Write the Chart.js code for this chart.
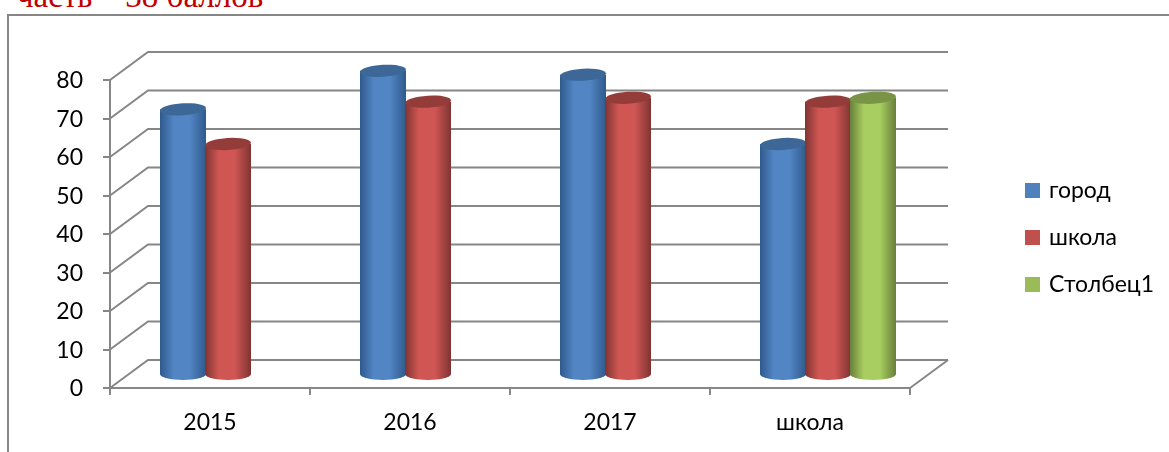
<!DOCTYPE html>
<html>
<head>
<meta charset="utf-8">
<script src="https://cdn.jsdelivr.net/npm/chart.js@4"></script>
<style>
  html, body { margin: 0; padding: 0; background: #fff; overflow: hidden; }
  #stage { position: relative; width: 1169px; height: 452px; overflow: hidden; }
  #heading { position: absolute; left: 17px; top: -22px; font: 33px "Liberation Serif", serif; color: #c00000; white-space: pre; }
  #frame { position: absolute; left: 7px; top: 14px; width: 1200px; height: 500px; border: 2px solid #868686; }
  canvas { position: absolute; left: 0; top: 0; }
</style>
</head>
<body>
<div id="stage">
  <div id="heading">часть – 38 баллов</div>
  <div id="frame"></div>
  <canvas id="chart" width="1169" height="452"></canvas>
</div>
<script>
// --- Data ---
const categories = ["2015", "2016", "2017", "школа"];
const gorod = [69, 79, 78, 60];
const shkola = [60, 71, 72, 71];
const stolbec1 = [null, null, null, 72];

// --- Depth of the 3D box ---
const DEPTH_X = 38;
const DEPTH_Y = 28;
const LINE_COLOR = "#868686";

// edge, middle, top cap
const shades = [
  ["#2f5a8c", "#5285c4", "#3d6796"],
  ["#7f3432", "#cf5653", "#933c3a"],
  ["#687f3a", "#a8cd60", "#7a9447"]
];

// --- Back wall and diagonals, under the bars ---
const wallPlugin = {
  id: "wall",
  beforeDatasetsDraw(chart) {
    const { ctx, scales } = chart;
    const left = scales.x.left, right = scales.x.right;
    ctx.save();
    ctx.strokeStyle = LINE_COLOR;
    ctx.lineWidth = 2;
    scales.y.ticks.forEach(t => {
      const y = scales.y.getPixelForValue(t.value);
      ctx.beginPath();
      ctx.moveTo(left, y);
      ctx.lineTo(left + DEPTH_X, y - DEPTH_Y);
      ctx.lineTo(right + DEPTH_X, y - DEPTH_Y);
      ctx.stroke();
    });
    // floor, right side
    const y0 = scales.y.getPixelForValue(0);
    ctx.beginPath();
    ctx.moveTo(right, y0);
    ctx.lineTo(right + DEPTH_X, y0 - DEPTH_Y);
    ctx.stroke();
    ctx.restore();
  },
  // the flat bars are not painted, the cylinders below take their place
  beforeDatasetDraw() {
    return false;
  }
};

// --- Cylinders, placed from the bar elements of each dataset ---
const cylinderPlugin = {
  id: "cylinders",
  afterDatasetsDraw(chart) {
    const ctx = chart.ctx;
    const dx = 18, dy = 13;
    chart.data.datasets.forEach((ds, i) => {
      const meta = chart.getDatasetMeta(i);
      const c = shades[i];
      meta.data.forEach((bar, j) => {
        if (ds.data[j] === null) return;
        const w = bar.width + 1;
        const x = bar.x + dx - w / 2;
        const top = bar.y - dy;
        const base = bar.base - dy;
        const rx = w / 2, ry = 6;
        const grad = ctx.createLinearGradient(x, 0, x + w, 0);
        grad.addColorStop(0, c[0]);
        grad.addColorStop(0.3, c[1]);
        grad.addColorStop(0.65, c[1]);
        grad.addColorStop(1, c[0]);
        ctx.fillStyle = grad;
        ctx.beginPath();
        ctx.moveTo(x, top);
        ctx.lineTo(x, base);
        ctx.ellipse(x + rx, base, rx, ry, 0, Math.PI, 0, true);
        ctx.lineTo(x + w, top);
        ctx.closePath();
        ctx.fill();
        ctx.fillStyle = c[2];
        ctx.beginPath();
        ctx.ellipse(x + rx, top, rx, ry, -0.06, 0, Math.PI * 2);
        ctx.fill();
      });
    });
  }
};

// --- Legend sits to the right of the plot, at a set place ---
const legendPlacePlugin = {
  id: "legendPlace",
  afterLayout(chart) {
    const lg = chart.legend;
    const w = lg.width, h = lg.height;
    lg.left = 1003.5;
    lg.right = lg.left + w;
    lg.top = 155;
    lg.bottom = lg.top + h;
  }
};

new Chart(document.getElementById("chart"), {
  type: "bar",
  data: {
    labels: categories,
    datasets: [
      { label: "город", data: gorod, backgroundColor: "#4f81bd", borderColor: "#4f81bd" },
      { label: "школа", data: shkola, backgroundColor: "#c0504d", borderColor: "#c0504d" },
      { label: "Столбец1", data: stolbec1, backgroundColor: "#9bbb59", borderColor: "#9bbb59" }
    ].map(d => Object.assign(d, { barPercentage: 1, categoryPercentage: 0.675, borderWidth: 5 }))
  },
  options: {
    responsive: false,
    animation: false,
    events: [],
    layout: { padding: { left: 0, top: 80, right: 259, bottom: 0 } },
    scales: {
      x: {
        afterFit(scale) { scale.height = 64; },
        grid: { offset: true, drawOnChartArea: false, color: LINE_COLOR, lineWidth: 2, tickLength: 7 },
        border: { color: LINE_COLOR, width: 2 },
        ticks: { color: "#000", font: { family: "Lato", size: 23 }, padding: 14, maxRotation: 0 }
      },
      y: {
        min: 0,
        max: 80,
        afterFit(scale) { scale.width = 110; },
        grid: { drawOnChartArea: false, color: LINE_COLOR, lineWidth: 2, tickLength: 7 },
        border: { color: LINE_COLOR, width: 2 },
        ticks: { stepSize: 10, color: "#000", font: { family: "Lato", size: 23 }, padding: 20, labelOffset: 1 }
      }
    },
    plugins: {
      tooltip: { enabled: false },
      legend: {
        position: "chartArea",
        align: "start",
        labels: {
          boxWidth: 10,
          boxHeight: 10,
          padding: 24,
          color: "#000",
          font: { family: "Lato", size: 23 }
        }
      }
    }
  },
  plugins: [wallPlugin, cylinderPlugin, legendPlacePlugin]
});
</script>
</body>
</html>
